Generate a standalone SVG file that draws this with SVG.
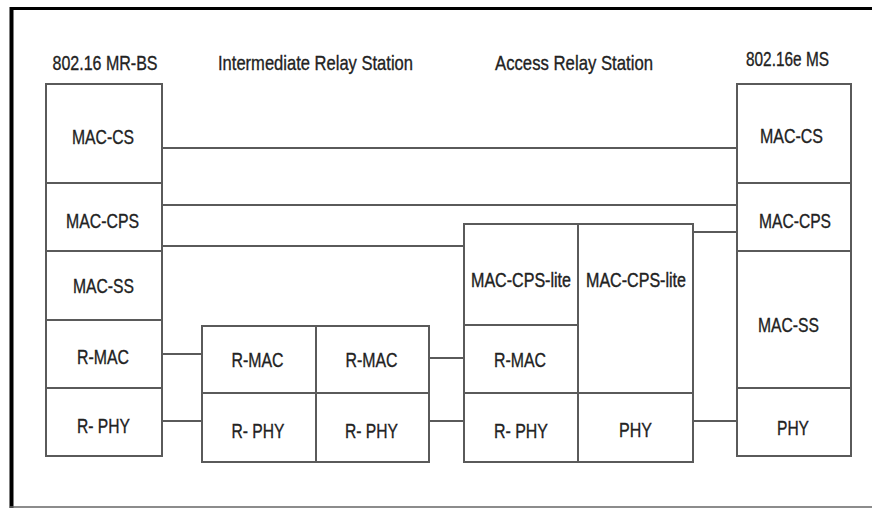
<svg xmlns="http://www.w3.org/2000/svg" width="872" height="508" viewBox="0 0 872 508">
<style>
.cell{fill:#fff;stroke:#5a5a5a;stroke-width:2}
.conn{stroke:#5a5a5a;stroke-width:2;fill:none}
.t{font-family:"Liberation Sans",Arial,sans-serif;font-size:21px;fill:#222;stroke:#222;stroke-width:0.35;text-anchor:middle}
.s{font-size:18px}
</style>
<rect x="0" y="0" width="872" height="508" fill="#fff"/>
<g id="frame">
<line x1="10" y1="8.5" x2="872" y2="8.5" stroke="#000" stroke-width="3"/>
<line x1="11.5" y1="7" x2="11.5" y2="508" stroke="#000" stroke-width="4"/>
<line x1="10" y1="507" x2="872" y2="507" stroke="#666" stroke-width="1.5"/>
</g>
<g id="titles">
<text class="t" x="105" y="70" textLength="105" lengthAdjust="spacingAndGlyphs">802.16 MR-BS</text>
<text class="t" x="315.5" y="70" textLength="195" lengthAdjust="spacingAndGlyphs">Intermediate Relay Station</text>
<text class="t" x="574" y="70" textLength="158" lengthAdjust="spacingAndGlyphs">Access Relay Station</text>
<text class="t" x="787.5" y="66" textLength="83" lengthAdjust="spacingAndGlyphs">802.16e MS</text>
</g>
<g id="connectors">
<line class="conn" x1="162" y1="148" x2="737" y2="148"/>
<line class="conn" x1="162" y1="205" x2="737" y2="205"/>
<line class="conn" x1="162" y1="246" x2="464" y2="246"/>
<line class="conn" x1="693" y1="232" x2="737" y2="232"/>
<line class="conn" x1="162" y1="354" x2="202" y2="354"/>
<line class="conn" x1="162" y1="421" x2="202" y2="421"/>
<line class="conn" x1="429" y1="358" x2="464" y2="358"/>
<line class="conn" x1="429" y1="421" x2="464" y2="421"/>
<line class="conn" x1="693" y1="421" x2="737" y2="421"/>
</g>
<g id="mrbs-mac-cs"><rect class="cell" x="46" y="84" width="116" height="99"/><text class="t" x="103" y="144" textLength="62" lengthAdjust="spacingAndGlyphs">MAC-CS</text></g>
<g id="mrbs-mac-cps"><rect class="cell" x="46" y="183" width="116" height="68"/><text class="t" x="102.5" y="228" textLength="73" lengthAdjust="spacingAndGlyphs">MAC-CPS</text></g>
<g id="mrbs-mac-ss"><rect class="cell" x="46" y="251" width="116" height="69"/><text class="t" x="103.5" y="293" textLength="61" lengthAdjust="spacingAndGlyphs">MAC-SS</text></g>
<g id="mrbs-r-mac"><rect class="cell" x="46" y="320" width="116" height="68"/><text class="t" x="103" y="364" textLength="52" lengthAdjust="spacingAndGlyphs">R-MAC</text></g>
<g id="mrbs-r-phy"><rect class="cell" x="46" y="388" width="116" height="68"/><text class="t" x="103.5" y="433" textLength="53" lengthAdjust="spacingAndGlyphs">R- PHY</text></g>
<g id="irs1-r-mac"><rect class="cell" x="202" y="326" width="114" height="67"/><text class="t" x="257.5" y="367" textLength="52" lengthAdjust="spacingAndGlyphs">R-MAC</text></g>
<g id="irs1-r-phy"><rect class="cell" x="202" y="393" width="114" height="69"/><text class="t" x="258" y="438" textLength="53" lengthAdjust="spacingAndGlyphs">R- PHY</text></g>
<g id="irs2-r-mac"><rect class="cell" x="316" y="326" width="113" height="67"/><text class="t" x="371.5" y="367" textLength="52" lengthAdjust="spacingAndGlyphs">R-MAC</text></g>
<g id="irs2-r-phy"><rect class="cell" x="316" y="393" width="113" height="69"/><text class="t" x="371.5" y="438" textLength="53" lengthAdjust="spacingAndGlyphs">R- PHY</text></g>
<g id="ars1-mac-cps-lite"><rect class="cell" x="464" y="224" width="114" height="101"/><text class="t s" transform="translate(521 287) scale(1 1.17)" x="0" y="0" textLength="100" lengthAdjust="spacingAndGlyphs">MAC-CPS-lite</text></g>
<g id="ars1-r-mac"><rect class="cell" x="464" y="325" width="114" height="68"/><text class="t" x="520" y="367" textLength="52" lengthAdjust="spacingAndGlyphs">R-MAC</text></g>
<g id="ars1-r-phy"><rect class="cell" x="464" y="393" width="114" height="69"/><text class="t" x="521" y="438" textLength="54" lengthAdjust="spacingAndGlyphs">R- PHY</text></g>
<g id="ars2-mac-cps-lite"><rect class="cell" x="578" y="224" width="115" height="169"/><text class="t s" transform="translate(636 287) scale(1 1.17)" x="0" y="0" textLength="100" lengthAdjust="spacingAndGlyphs">MAC-CPS-lite</text></g>
<g id="ars2-phy"><rect class="cell" x="578" y="393" width="115" height="69"/><text class="t" x="635.5" y="437" textLength="33" lengthAdjust="spacingAndGlyphs">PHY</text></g>
<g id="ms-mac-cs"><rect class="cell" x="737" y="84" width="114" height="99"/><text class="t" x="791.5" y="143" textLength="63" lengthAdjust="spacingAndGlyphs">MAC-CS</text></g>
<g id="ms-mac-cps"><rect class="cell" x="737" y="183" width="114" height="68"/><text class="t" x="795" y="228" textLength="72" lengthAdjust="spacingAndGlyphs">MAC-CPS</text></g>
<g id="ms-mac-ss"><rect class="cell" x="737" y="251" width="114" height="137"/><text class="t" x="788.5" y="332" textLength="61" lengthAdjust="spacingAndGlyphs">MAC-SS</text></g>
<g id="ms-phy"><rect class="cell" x="737" y="388" width="114" height="68"/><text class="t" x="793" y="435" textLength="32" lengthAdjust="spacingAndGlyphs">PHY</text></g>
</svg>
